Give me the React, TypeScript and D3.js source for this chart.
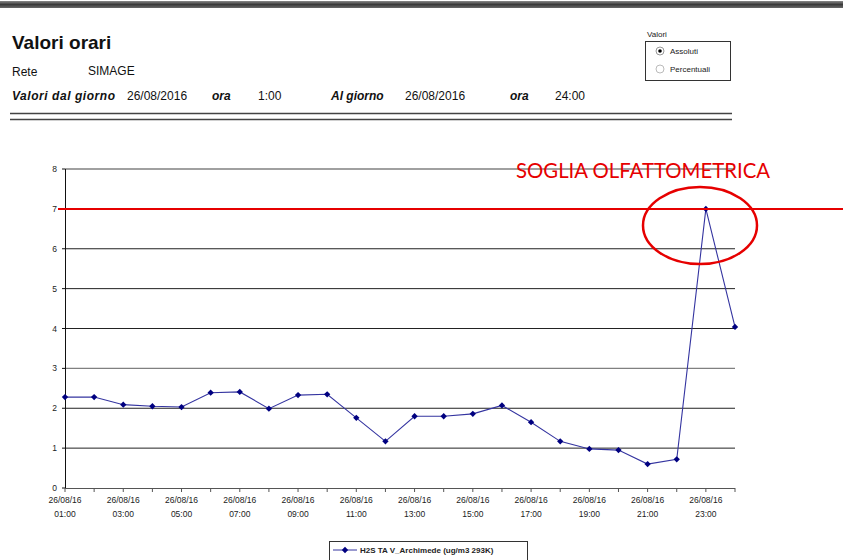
import React from "react";
import * as d3 from "d3";

// ore del 26/08/2016 e valori orari H2S (ug/m3 293K)
const hours = [
  "01:00", "02:00", "03:00", "04:00", "05:00", "06:00", "07:00", "08:00",
  "09:00", "10:00", "11:00", "12:00", "13:00", "14:00", "15:00", "16:00",
  "17:00", "18:00", "19:00", "20:00", "21:00", "22:00", "23:00", "24:00",
];
const h2sValues = [
  2.28, 2.28, 2.09, 2.05, 2.03, 2.39, 2.41, 1.99,
  2.33, 2.35, 1.76, 1.17, 1.80, 1.80, 1.86, 2.07,
  1.65, 1.17, 0.98, 0.95, 0.60, 0.72, 7.0, 4.04,
];
const yTicks = [0, 1, 2, 3, 4, 5, 6, 7, 8];
const threshold = 7;
const dateLabel = "26/08/16";
const seriesName = "H2S TA V_Archimede (ug/m3 293K)";

const W = 843;
const H = 560;
const FONT = "'Liberation Sans', Arial, sans-serif";

export default function App() {
  const x = d3.scalePoint<string>().domain(hours).range([65, 735]);
  const y = d3.scaleLinear().domain([0, 8]).range([488, 169]);

  const line = d3
    .line<number>()
    .x((_, i) => x(hours[i]) as number)
    .y((d) => y(d));

  // rombo compatto: quadrato ruotato di 45°
  const marker = d3.symbol().type(d3.symbolSquare).size(20)();

  return (
    <svg
      width={W}
      height={H}
      style={{ position: "absolute", left: 0, top: 0, background: "#fff" }}
      fontFamily={FONT}
    >
      <defs>
        <linearGradient id="topbar" x1="0" y1="0" x2="0" y2="1">
          <stop offset="0" stopColor="#8a8a8a" />
          <stop offset="0.5" stopColor="#3a3a3a" />
          <stop offset="1" stopColor="#6a6a6a" />
        </linearGradient>
      </defs>
      <rect x={0} y={1} width={W} height={7} fill="url(#topbar)" />

      {/* intestazione */}
      <text x={12} y={49} fontSize={19} fontWeight="bold" fill="#111">
        Valori orari
      </text>
      <text x={12} y={76} fontSize={12} fill="#111">Rete</text>
      <text x={88} y={75} fontSize={12} fill="#111">SIMAGE</text>
      <g fontSize={12} fill="#111">
        <text x={12} y={100} fontWeight="bold" fontStyle="italic" textLength={103}>
          Valori dal giorno
        </text>
        <text x={127} y={100}>26/08/2016</text>
        <text x={212} y={100} fontWeight="bold" fontStyle="italic">ora</text>
        <text x={258} y={100}>1:00</text>
        <text x={331} y={100} fontWeight="bold" fontStyle="italic">Al giorno</text>
        <text x={405} y={100}>26/08/2016</text>
        <text x={510} y={100} fontWeight="bold" fontStyle="italic">ora</text>
        <text x={555} y={100}>24:00</text>
      </g>
      <line x1={10} x2={732} y1={113.5} y2={113.5} stroke="#444" strokeWidth={1.5} />
      <line x1={10} x2={732} y1={119.5} y2={119.5} stroke="#444" strokeWidth={1.5} />

      {/* riquadro Valori */}
      <text x={647} y={37} fontSize={8} fill="#222">Valori</text>
      <rect x={645.5} y={41.5} width={85} height={39} fill="#fff" stroke="#333" />
      <circle cx={660} cy={51} r={4} fill="#fff" stroke="#999" />
      <circle cx={660} cy={51} r={1.8} fill="#000" />
      <text x={670} y={54} fontSize={8} fill="#222">Assoluti</text>
      <circle cx={660} cy={69} r={4} fill="#fff" stroke="#bbb" />
      <text x={670} y={72} fontSize={8} fill="#222">Percentuali</text>

      {/* griglia */}
      {yTicks.filter((t) => t > 0).map((t) => (
        <line
          key={t}
          x1={65}
          x2={735}
          y1={y(t)}
          y2={y(t)}
          stroke={t === 8 || t === 3 ? "#808080" : "#222"}
          strokeWidth={t === 8 || t === 3 ? 1.3 : 1}
        />
      ))}

      {/* asse y */}
      <line x1={65.5} x2={65.5} y1={169} y2={488} stroke="#111" />
      {yTicks.map((t) => (
        <g key={t}>
          <line x1={62} x2={65} y1={y(t)} y2={y(t)} stroke="#111" />
          <text
            x={57}
            y={y(t) + 3}
            fontSize={8.5}
            textAnchor="end"
            fill="#222"
          >
            {t}
          </text>
        </g>
      ))}

      {/* asse x */}
      <line x1={65} x2={735} y1={488.5} y2={488.5} stroke="#555" />
      {hours.map((h, i) => (
        <g key={h}>
          <line
            x1={x(h)}
            x2={x(h)}
            y1={488}
            y2={492}
            stroke="#555"
          />
          {i % 2 === 0 && (
            <text
              x={x(h)}
              fontSize={8.5}
              textAnchor="middle"
              fill="#222"
            >
              <tspan x={x(h)} y={503}>{dateLabel}</tspan>
              <tspan x={x(h)} y={517}>{h}</tspan>
            </text>
          )}
        </g>
      ))}

      {/* serie */}
      <path d={line(h2sValues) ?? ""} fill="none" stroke="#3434a0" strokeWidth={1.1} />
      {h2sValues.map((v, i) => (
        <path
          key={i}
          d={marker ?? ""}
          transform={`translate(${x(hours[i])},${y(v)}) rotate(45)`}
          fill="#000080"
        />
      ))}

      {/* soglia olfattometrica */}
      <line x1={58} x2={W} y1={y(threshold)} y2={y(threshold)} stroke="#e60000" strokeWidth={2} />
      <text
        x={516}
        y={178}
        fontSize={21}
        fill="#e60000"
        fontFamily="Lato, 'Open Sans', sans-serif"
        textLength={254}
        lengthAdjust="spacingAndGlyphs"
      >
        SOGLIA OLFATTOMETRICA
      </text>
      <ellipse cx={700} cy={225.5} rx={57} ry={38.5} fill="none" stroke="#e60000" strokeWidth={2.5} />

      {/* legenda */}
      <rect x={329.5} y={541.5} width={198} height={20} fill="#fff" stroke="#333" />
      <line x1={333} x2={357} y1={550} y2={550} stroke="#3434a0" />
      <path d={marker ?? ""} transform="translate(345,550) rotate(45)" fill="#000080" />
      <text x={360} y={553} fontSize={8} fontWeight="bold" fill="#222">
        {seriesName}
      </text>
    </svg>
  );
}
